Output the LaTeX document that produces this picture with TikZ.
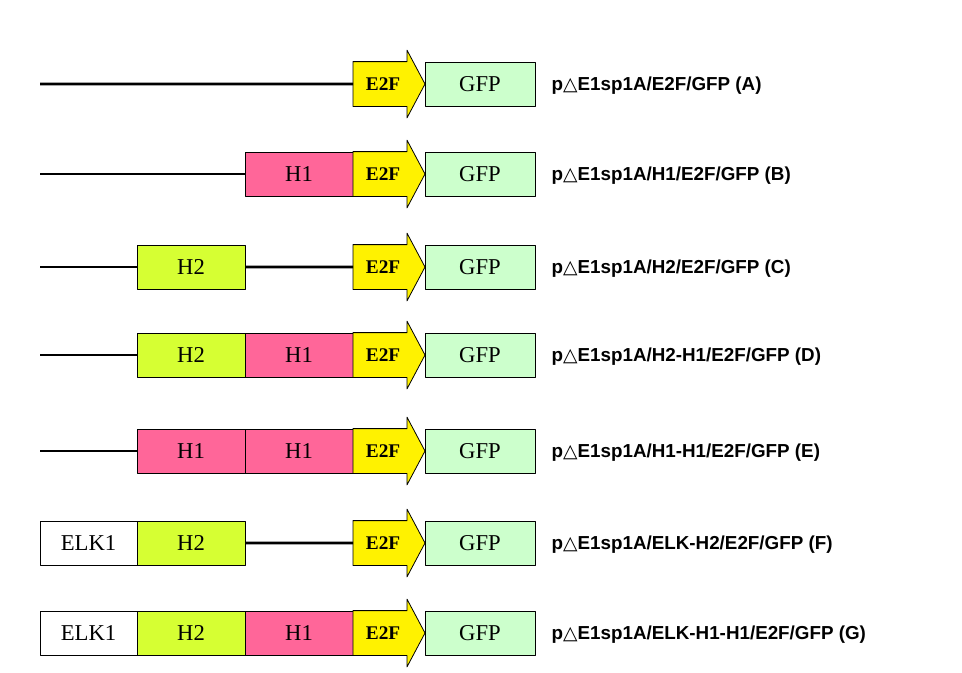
\documentclass[tikz,border=0pt]{standalone}
\usepackage{fontspec}
\setmainfont{Liberation Serif}
\newfontfamily\lblfont{Liberation Sans}
\newfontfamily\trifont{DejaVu Sans}
\usetikzlibrary{positioning,shapes.arrows}
\definecolor{hpink}{RGB}{255,102,153}
\definecolor{hlime}{RGB}{214,255,51}
\definecolor{gfpgreen}{RGB}{204,255,204}
\newcommand{\plabel}[1]{p{\trifont\mdseries △}E1sp1A/#1}
\begin{document}
\begin{tikzpicture}[x=0.75pt, y=-0.75pt, line cap=round, line join=round,
    seg/.style={draw, line width=0.6pt, inner sep=0pt, outer sep=0pt, minimum height=33pt, font=\fontsize{17}{17}\selectfont},
    hone/.style={seg, fill=hpink, minimum width=81pt},
    htwo/.style={seg, fill=hlime, minimum width=81pt},
    elk/.style={seg, fill=white, minimum width=72.75pt},
    gfp/.style={seg, fill=gfpgreen, minimum width=82.5pt},
    e2f/.style={single arrow, draw, fill=yellow, line width=0.6pt, inner xsep=0pt, inner ysep=11.75pt,
      outer sep=0pt, text height=9.5pt, text depth=0pt, minimum height=54pt,
      single arrow head extend=8.6pt, single arrow tip angle=124,
      font=\bfseries\fontsize{14.5}{14.5}\selectfont},
    bb/.style={line width=2.2pt, line cap=butt},
    lbl/.style={right=9pt of #1, yshift=-1.5pt, font=\lblfont\bfseries\fontsize{14.1}{14.1}\selectfont}]
  \useasboundingbox (0,0) rectangle (962,672);

  % (A)
  \coordinate (a0) at (40,84);
  \node[e2f, anchor=west] (a1) at (353,84) {E2F};
  \node[gfp, right=0pt of a1] (a2) {GFP};
  \draw[bb] (a0) -- (a1);
  \node[lbl=a2] (la) {\plabel{E2F/GFP (A)}};

  % (B)
  \coordinate (b0) at (40,174);
  \node[hone, anchor=west] (b1) at (245,174) {H1};
  \node[e2f, right=0pt of b1] (b2) {E2F};
  \node[gfp, right=0pt of b2] (b3) {GFP};
  \draw[bb] (b0) -- (b1);
  \node[lbl=b3] (lb) {\plabel{H1/E2F/GFP (B)}};

  % (C)
  \coordinate (c0) at (40,267);
  \node[htwo, anchor=west] (c1) at (137,267) {H2};
  \node[e2f, anchor=west] (c2) at (353,267) {E2F};
  \node[gfp, right=0pt of c2] (c3) {GFP};
  \draw[bb] (c0) -- (c1);
  \draw[bb] (c1) -- (c2);
  \node[lbl=c3] (lc) {\plabel{H2/E2F/GFP (C)}};

  % (D)
  \coordinate (d0) at (40,355);
  \node[htwo, anchor=west] (d1) at (137,355) {H2};
  \node[hone, right=0pt of d1] (d2) {H1};
  \node[e2f, right=0pt of d2] (d3) {E2F};
  \node[gfp, right=0pt of d3] (d4) {GFP};
  \draw[bb] (d0) -- (d1);
  \node[lbl=d4] (ld) {\plabel{H2-H1/E2F/GFP (D)}};

  % (E)
  \coordinate (e0) at (40,451);
  \node[hone, anchor=west] (e1) at (137,451) {H1};
  \node[hone, right=0pt of e1] (e2) {H1};
  \node[e2f, right=0pt of e2] (e3) {E2F};
  \node[gfp, right=0pt of e3] (e4) {GFP};
  \draw[bb] (e0) -- (e1);
  \node[lbl=e4] (le) {\plabel{H1-H1/E2F/GFP (E)}};

  % (F)
  \node[elk, anchor=west] (f0) at (40,543) {ELK1};
  \node[htwo, right=0pt of f0] (f1) {H2};
  \node[e2f, anchor=west] (f2) at (353,543) {E2F};
  \node[gfp, right=0pt of f2] (f3) {GFP};
  \draw[bb] (f1) -- (f2);
  \node[lbl=f3] (lf) {\plabel{ELK-H2/E2F/GFP (F)}};

  % (G)
  \node[elk, anchor=west] (g0) at (40,633) {ELK1};
  \node[htwo, right=0pt of g0] (g1) {H2};
  \node[hone, right=0pt of g1] (g2) {H1};
  \node[e2f, right=0pt of g2] (g3) {E2F};
  \node[gfp, right=0pt of g3] (g4) {GFP};
  \node[lbl=g4] (lg) {\plabel{ELK-H1-H1/E2F/GFP (G)}};
\end{tikzpicture}
\end{document}
